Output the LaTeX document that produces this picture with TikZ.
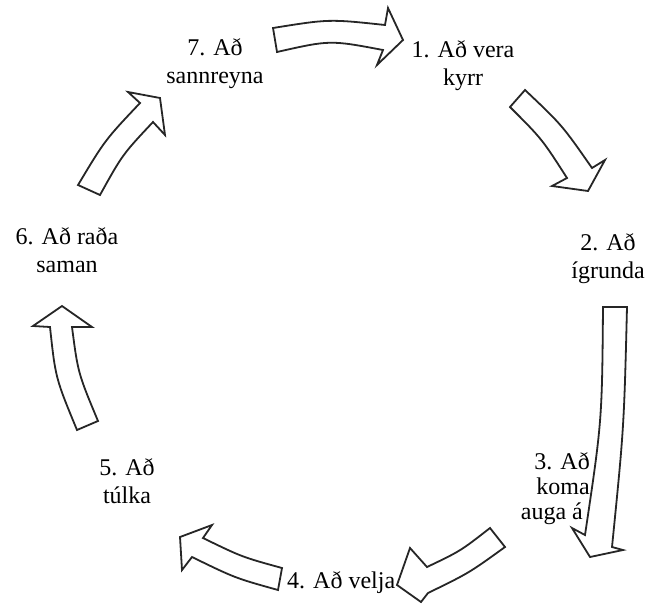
\documentclass[tikz,border=0pt]{standalone}
\usepackage{fontspec}
\setmainfont{Liberation Serif}
\begin{document}
\begin{tikzpicture}[x=1pt,y=-1pt,
  blockarrow/.style={draw=black!85, line width=1.8pt, fill=white, line join=miter},
  lbl/.style={font=\fontsize{24}{28}\selectfont, align=center, inner sep=0pt, anchor=base}]
\useasboundingbox (0,0) rectangle (663,605);

% arrow 7 -> 1 (top)
\draw[blockarrow] (273,28) .. controls (329,19) .. (385,25) -- (388,8) -- (403,40) -- (377,65) -- (383,50) .. controls (330,40) .. (277,52) -- cycle;
% arrow 1 -> 2
\draw[blockarrow] (525,90) .. controls (562,125) .. (592,168) -- (605,160) -- (588,191) -- (552,186) -- (567,178) .. controls (542,139) .. (510,107) -- cycle;
% arrow 2 -> 3
\draw[blockarrow] (603,307) -- (627,307) .. controls (624,427) .. (612,547) -- (623,550) -- (590,557) -- (572,528) -- (585,535) .. controls (602,421) .. (603,307) -- cycle;
% arrow 3 -> 4
\draw[blockarrow] (490,528) -- (505,547) .. controls (469,573) .. (428,593) -- (421,602) -- (397,585) -- (410,548) -- (427,567) .. controls (460.5,551) .. (490,528) -- cycle;
% arrow 4 -> 5
\draw[blockarrow] (282,568) .. controls (242,557) .. (203,538) -- (212,525) -- (180,537) -- (182,570) -- (192,557) .. controls (235,578) .. (278,590) -- cycle;
% arrow 5 -> 6
\draw[blockarrow] (77,430) -- (98,421) .. controls (78,373) .. (72,327) -- (92,327) -- (62,306) -- (33,326) -- (50,327) .. controls (55.5,378) .. (77,430) -- cycle;
% arrow 6 -> 7
\draw[blockarrow] (78,185) -- (100,195) .. controls (122.5,154.5) .. (153,122) -- (165,135) -- (160,98) -- (128,92) -- (140,103) .. controls (105,140) .. (78,185) -- cycle;

\node[lbl] (s1) at (463,85) {1. Að vera\\kyrr};
\node[lbl] (s2) at (608,278) {2. Að\\ígrunda};
\node[lbl, font=\fontsize{24}{25}\selectfont, align=right, anchor=base east] (s3) at (590,519) {3. Að\\koma\\auga á\hspace*{7pt}};
\node[lbl, anchor=base west] (s4) at (287,588) {4. Að velja};
\node[lbl] (s5) at (127,503) {5. Að\\túlka};
\node[lbl] (s6) at (67,272) {6. Að raða\\saman};
\node[lbl] (s7) at (215,83) {7. Að\\sannreyna};
\end{tikzpicture}
\end{document}
